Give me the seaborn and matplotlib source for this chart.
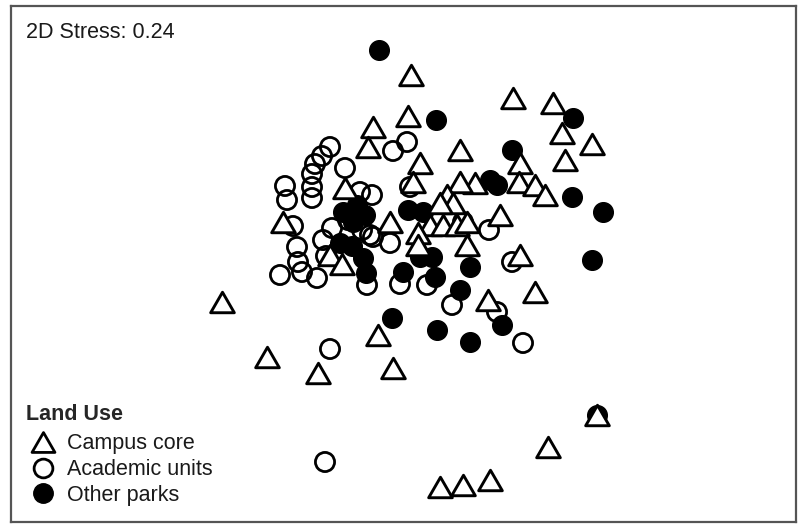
import matplotlib
matplotlib.use("Agg")
import matplotlib.pyplot as plt
import seaborn as sns
import pandas as pd
from matplotlib.lines import Line2D
from matplotlib.path import Path

# NMDS ordination scores (in plot units, y grows downward)
core_x = [411, 513, 553, 373, 408, 562, 592, 368, 460, 420, 565, 520, 519, 535, 545,
          475, 460, 447, 453, 413, 345, 440, 500, 283, 430, 443, 457, 467, 390, 418,
          418, 467, 330, 342, 520, 535, 222, 488, 378, 267, 393, 318, 597, 548, 440,
          463, 490]
core_y = [75, 98, 103, 127, 116, 133, 144, 147, 150, 163, 160, 163, 182, 185, 195,
          183, 182, 195, 203, 182, 188, 203, 215, 222, 225, 225, 225, 222, 222, 233,
          245, 245, 255, 264, 255, 292, 302, 300, 335, 357, 368, 373, 415, 447, 487,
          485, 480]

acad_x = [330, 322, 315, 312, 312, 312, 285, 287, 345, 360, 372, 393, 407, 410,
          293, 297, 298, 302, 280, 317, 323, 332, 348, 362, 370, 373, 390, 367, 326,
          463, 489, 512, 400, 427, 452, 497, 523, 330, 325]
acad_y = [147, 156, 164, 174, 187, 198, 186, 200, 168, 192, 195, 151, 142, 187,
          226, 247, 262, 272, 275, 278, 240, 228, 220, 230, 235, 237, 243, 285, 256,
          222, 230, 262, 284, 285, 305, 312, 343, 349, 462]

park_x = [379, 436, 573, 512, 490, 497, 572, 603, 592, 408, 423, 343, 357, 365, 353,
          340, 352, 363, 366, 420, 432, 403, 435, 470, 460, 437, 470, 502, 392, 597]
park_y = [50, 120, 118, 150, 180, 185, 197, 212, 260, 210, 212, 212, 205, 215, 222,
          243, 246, 258, 273, 257, 257, 272, 277, 267, 290, 330, 342, 325, 318, 415]

labels = ["Campus core", "Academic units", "Other parks"]
legend_title = "Land Use"
stress_text = "2D Stress: 0.24"

sns.set_style("white")
plt.rcParams['font.family'] = ['Liberation Sans', 'DejaVu Sans']

fig = plt.figure(figsize=(8, 5.29), dpi=100)
ax = fig.add_axes([11/800, 1 - 522/529, (796 - 11)/800, (522 - 6)/529])

df_core = pd.DataFrame({"NMDS1": core_x, "NMDS2": core_y})
df_acad = pd.DataFrame({"NMDS1": acad_x, "NMDS2": acad_y})
df_park = pd.DataFrame({"NMDS1": park_x, "NMDS2": park_y})

# equilateral upward triangle, centred on its bounding box
tri = Path([(-1, -0.866), (1, -0.866), (0, 0.866), (-1, -0.866)],
           [Path.MOVETO, Path.LINETO, Path.LINETO, Path.CLOSEPOLY])

sns.scatterplot(data=df_acad, x="NMDS1", y="NMDS2", ax=ax, marker="o", s=190,
                facecolor="none", edgecolor="black", linewidth=2.0, legend=False, zorder=2)
sns.scatterplot(data=df_park, x="NMDS1", y="NMDS2", ax=ax, marker="o", s=200,
                color="black", edgecolor="black", linewidth=1.0, legend=False, zorder=3)
sns.scatterplot(data=df_core, x="NMDS1", y="NMDS2", ax=ax, marker=tri, s=290,
                facecolor="white", edgecolor="black", linewidth=2.1, legend=False, zorder=4)

ax.set_xlim(11, 796)
ax.set_ylim(522, 6)
ax.set_xticks([])
ax.set_yticks([])
ax.set_xlabel("")
ax.set_ylabel("")
for sp in ax.spines.values():
    sp.set_color("#555555")
    sp.set_linewidth(1.6)

ax.text(26, 33, stress_text, fontsize=15.5, va="center", ha="left", color="#1a1a1a")

handles = [
    Line2D([], [], marker=tri, linestyle="none", markersize=16.5, markerfacecolor="white",
           markeredgecolor="black", markeredgewidth=2.0),
    Line2D([], [], marker="o", linestyle="none", markersize=13.5, markerfacecolor="none",
           markeredgecolor="black", markeredgewidth=2.0),
    Line2D([], [], marker="o", linestyle="none", markersize=14, markerfacecolor="black",
           markeredgecolor="black"),
]
leg = ax.legend(handles, labels, title=legend_title, loc="upper left", frameon=False,
                fontsize=15.5, title_fontproperties={"weight": "bold", "size": 15.5},
                handlelength=1.6, handletextpad=0.3, labelspacing=0.22, borderpad=0,
                borderaxespad=0, bbox_to_anchor=(26, 404),
                bbox_transform=ax.transData)
leg._legend_box.align = "left"
leg._legend_box.sep = 6
for t in leg.get_texts():
    t.set_color("#1a1a1a")

fig.savefig("out.png", dpi=100)
